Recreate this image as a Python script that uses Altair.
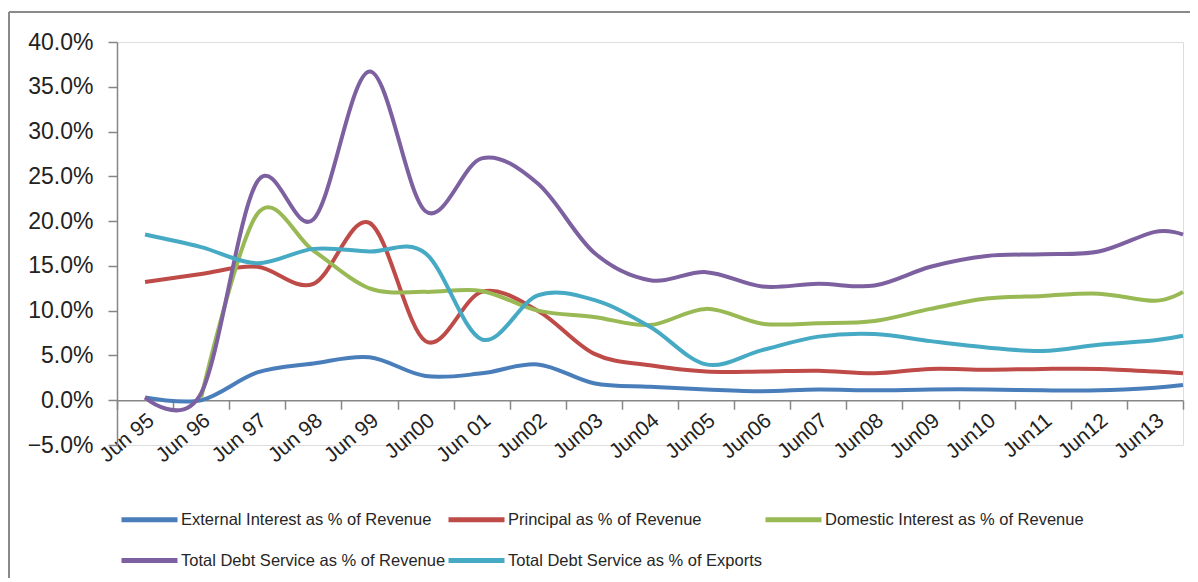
import altair as alt
import pandas as pd

# Observation dates (decimal years): mid-year readings plus a December 2013 reading
years = [1995.5, 1996.5, 1997.5, 1998.5, 1999.5, 2000.5, 2001.5, 2002.5, 2003.5, 2004.5,
         2005.5, 2006.5, 2007.5, 2008.5, 2009.5, 2010.5, 2011.5, 2012.5, 2013.5, 2014.0]

# Category-axis labels, one per fiscal year band
tick_labels = ["Jun 95", "Jun 96", "Jun 97", "Jun 98", "Jun 99", "Jun00", "Jun 01", "Jun02",
               "Jun03", "Jun04", "Jun05", "Jun06", "Jun07", "Jun08", "Jun09", "Jun10",
               "Jun11", "Jun12", "Jun13"]
band_edges = list(range(1995, 2015))

# Debt ratios, in percent
external_interest = [0.3, 0.0, 3.1, 4.1, 4.8, 2.7, 3.0, 4.0, 1.9, 1.5,
                     1.2, 1.0, 1.2, 1.1, 1.2, 1.2, 1.1, 1.1, 1.4, 1.7]
principal = [13.2, 14.1, 14.9, 13.0, 19.8, 6.6, 12.1, 10.0, 5.2, 3.9,
             3.2, 3.2, 3.3, 3.0, 3.5, 3.4, 3.5, 3.5, 3.2, 3.0]
domestic_interest = [None, 0.3, 20.8, 16.7, 12.5, 12.1, 12.2, 10.0, 9.3, 8.4,
                     10.2, 8.55, 8.6, 8.85, 10.2, 11.35, 11.65, 11.9, 11.1, 12.1]
total_revenue = [0.3, 0.8, 24.4, 20.2, 36.7, 21.1, 27.0, 24.2, 16.5, 13.4,
                 14.3, 12.7, 13.0, 12.8, 14.9, 16.1, 16.3, 16.6, 18.8, 18.5]
total_exports = [18.5, 17.1, 15.3, 16.9, 16.6, 16.4, 6.8, 11.7, 11.2, 8.2,
                 4.0, 5.6, 7.1, 7.4, 6.6, 5.9, 5.5, 6.2, 6.7, 7.2]

series_names = [
    "External Interest as % of Revenue",
    "Principal as % of Revenue",
    "Domestic Interest as % of Revenue",
    "Total Debt Service as % of Revenue",
    "Total Debt Service as % of Exports",
]
series_values = [external_interest, principal, domestic_interest, total_revenue, total_exports]
series_colors = ["#4A7EBB", "#BE4B48", "#98B954", "#7D60A0", "#46AAC5"]

rows = []
for name, vals in zip(series_names, series_values):
    for yr, v in zip(years, vals):
        rows.append({"series": name, "year": yr, "value": None if v is None else v / 100.0})
df = pd.DataFrame(rows)

axis_grey = "#868686"
label_expr = f"datum.value < 2014 ? {tick_labels}[datum.value - 1995] : ''"

lines = alt.Chart(df).mark_line(strokeWidth=4, interpolate="cardinal").encode(
    x=alt.X(
        "year:Q",
        scale=alt.Scale(domain=[1995, 2014], nice=False, zero=False),
        axis=alt.Axis(
            values=band_edges,
            labelExpr=label_expr,
            title=None,
            grid=False,
            offset=-44.78,
            domainColor=axis_grey,
            domainWidth=1.5,
            tickColor=axis_grey,
            tickWidth=1.5,
            tickSize=9,
            labelAngle=-40,
            labelAlign="right",
            labelBaseline="top",
            labelOffset=27,
            labelPadding=0,
            labelFont="Liberation Sans",
            labelFontSize=21,
            labelColor="#222222",
            labelOverlap=False,
            labelFlush=False,
        ),
    ),
    y=alt.Y(
        "value:Q",
        scale=alt.Scale(domain=[-0.05, 0.40], nice=False, zero=False),
        axis=alt.Axis(
            values=[-0.05, 0.0, 0.05, 0.1, 0.15, 0.2, 0.25, 0.3, 0.35, 0.4],
            format=".1%",
            title=None,
            grid=False,
            domainColor=axis_grey,
            domainWidth=1.5,
            tickColor=axis_grey,
            tickWidth=1.5,
            tickSize=9,
            labelFont="Liberation Sans",
            labelFontSize=23,
            labelColor="#222222",
            labelPadding=15,
        ),
    ),
    color=alt.Color(
        "series:N",
        sort=series_names,
        scale=alt.Scale(domain=series_names, range=series_colors),
        legend=alt.Legend(
            title=None,
            orient="none",
            legendX=2,
            legendY=447,
            direction="horizontal",
            columns=3,
            symbolType="stroke",
            symbolSize=3136,
            symbolStrokeWidth=5,
            labelFont="Liberation Sans",
            labelFontSize=16.5,
            labelColor="#262626",
            labelOffset=1,
            columnPadding=-8,
            rowPadding=-9,
            labelLimit=400,
        ),
    ),
)

# Chart-area frame: top and left edges
frame_data = pd.DataFrame({"edge": [0]})
frame_top = alt.Chart(frame_data).mark_rule(color="#8a8a8a", strokeWidth=2).encode(
    x=alt.value(-108), x2=alt.value(1073), y=alt.value(-30)
)
frame_left = alt.Chart(frame_data).mark_rule(color="#8a8a8a", strokeWidth=2).encode(
    x=alt.value(-108), y=alt.value(-30), y2=alt.value(536)
)

chart = alt.layer(frame_top, frame_left, lines).properties(
    width=1066,
    height=403,
    padding={"left": 117, "top": 42, "right": 15, "bottom": 133},
    autosize=alt.AutoSizeParams(type="none"),
    background="white",
).configure_view(stroke=None).configure(font="Liberation Sans")

chart.save("out.html", embed_options={"renderer": "svg", "actions": False})
